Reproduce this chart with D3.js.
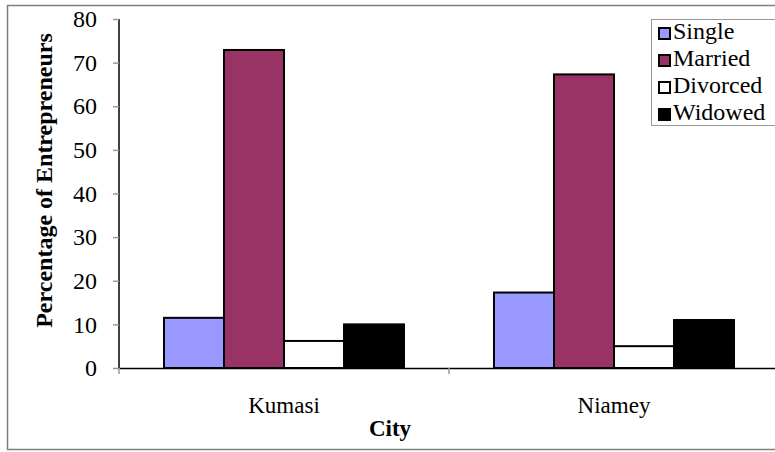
<!DOCTYPE html>
<html>
<head>
<meta charset="utf-8">
<script src="https://cdn.jsdelivr.net/npm/d3@7"></script>
<style>
  body { margin: 0; background: #fff; }
  svg { display: block; }
  svg text { font-family: "Liberation Serif", "Times New Roman", serif; fill: #000; }
</style>
</head>
<body>
<div id="chart"></div>
<script>
// data
var cities = ["Kumasi", "Niamey"];
var series = ["Single", "Married", "Divorced", "Widowed"];
var single = [11.5, 17.3];
var married = [72.9, 67.3];
var divorced = [6.2, 5.0];
var widowed = [10.0, 11.0];
var colors = ["#9999ff", "#993366", "#ffffff", "#000000"];
var yTicks = [0, 10, 20, 30, 40, 50, 60, 70, 80];

var values = [single, married, divorced, widowed];

var width = 775, height = 452;
var margin = { top: 19, left: 119, right: -4, bottom: 84 };

var svg = d3.select("#chart").append("svg")
	.attr("width", width)
	.attr("height", height);

// outer chart frame
svg.append("rect")
	.attr("x", 7.5).attr("y", 5.5)
	.attr("width", 790).attr("height", 444)
	.attr("fill", "#fff")
	.attr("stroke", "#7f7f7f")
	.attr("stroke-width", 1.5);

var x0 = d3.scaleBand()
	.domain(cities)
	.range([margin.left, width - margin.right])
	.padding(0);

var x1 = d3.scaleBand()
	.domain(series)
	.range([45, x0.bandwidth() - 45])
	.padding(0);

var y = d3.scaleLinear()
	.domain([0, 80])
	.range([height - margin.bottom, margin.top]);

// y axis
var yAxis = svg.append("g")
	.attr("transform", "translate(" + margin.left + ",0)")
	.call(d3.axisLeft(y).tickValues(yTicks).tickSize(6).tickPadding(16));
yAxis.select(".domain").attr("stroke", "#000").attr("stroke-width", 1.5)
	.attr("d", "M0," + y(80) + "V" + y(0));
yAxis.selectAll(".tick line").attr("stroke", "#999").attr("stroke-width", 1.5);
yAxis.selectAll(".tick text")
	.style("font-family", "Liberation Serif")
	.style("font-size", "24px");

// bars
var groups = svg.selectAll(".city")
	.data(cities)
	.enter().append("g")
	.attr("class", "city")
	.attr("transform", function(d) { return "translate(" + x0(d) + ",0)"; });

groups.selectAll("rect")
	.data(function(d, i) {
		return series.map(function(s, j) { return { key: s, value: values[j][i], color: colors[j] }; });
	})
	.enter().append("rect")
	.attr("x", function(d) { return x1(d.key); })
	.attr("y", function(d) { return y(d.value); })
	.attr("width", x1.bandwidth())
	.attr("height", function(d) { return y(0) - y(d.value); })
	.attr("fill", function(d) { return d.color; })
	.attr("stroke", "#000")
	.attr("stroke-width", 2);

// x axis
var xAxis = svg.append("g")
	.attr("transform", "translate(0," + y(0) + ")")
	.call(d3.axisBottom(x0).tickSize(0).tickPadding(29));
xAxis.select(".domain").attr("stroke", "#000").attr("stroke-width", 1.5);
xAxis.selectAll(".tick text")
	.style("font-family", "Liberation Serif")
	.style("font-size", "23px");

// category divider ticks
var bounds = cities.map(function(c) { return x0(c); }).concat([x0.range()[1]]);
svg.selectAll(".xtick")
	.data(bounds)
	.enter().append("line")
	.attr("class", "xtick")
	.attr("x1", function(d) { return d; })
	.attr("x2", function(d) { return d; })
	.attr("y1", y(0))
	.attr("y2", y(0) + 6)
	.attr("stroke", "#999")
	.attr("stroke-width", 1.5);

// axis titles
svg.append("text")
	.attr("x", (x0.range()[0] + x0.range()[1]) / 2 - 59)
	.attr("y", 436)
	.attr("text-anchor", "middle")
	.style("font-size", "23px")
	.style("font-weight", "bold")
	.text("City");

svg.append("text")
	.attr("transform", "translate(52," + (y(40) - 13) + ") rotate(-90)")
	.attr("text-anchor", "middle")
	.style("font-size", "24px")
	.style("font-weight", "bold")
	.text("Percentage of Entrepreneurs");

// legend
var legend = svg.append("g").attr("transform", "translate(651,19)");
legend.append("rect")
	.attr("x", 0.5).attr("y", 0.5)
	.attr("width", 130).attr("height", 106)
	.attr("fill", "#fff")
	.attr("stroke", "#999")
	.attr("stroke-width", 1);

var items = legend.selectAll(".item")
	.data(series)
	.enter().append("g")
	.attr("class", "item")
	.attr("transform", function(d, i) { return "translate(8," + (20 + i * 27) + ")"; });

items.append("rect")
	.attr("x", 0).attr("y", -11)
	.attr("width", 11).attr("height", 11)
	.attr("fill", function(d, i) { return colors[i]; })
	.attr("stroke", "#000")
	.attr("stroke-width", 2);

items.append("text")
	.attr("x", 14)
	.attr("y", 0)
	.style("font-size", "24px")
	.text(function(d) { return d; });
</script>
</body>
</html>
